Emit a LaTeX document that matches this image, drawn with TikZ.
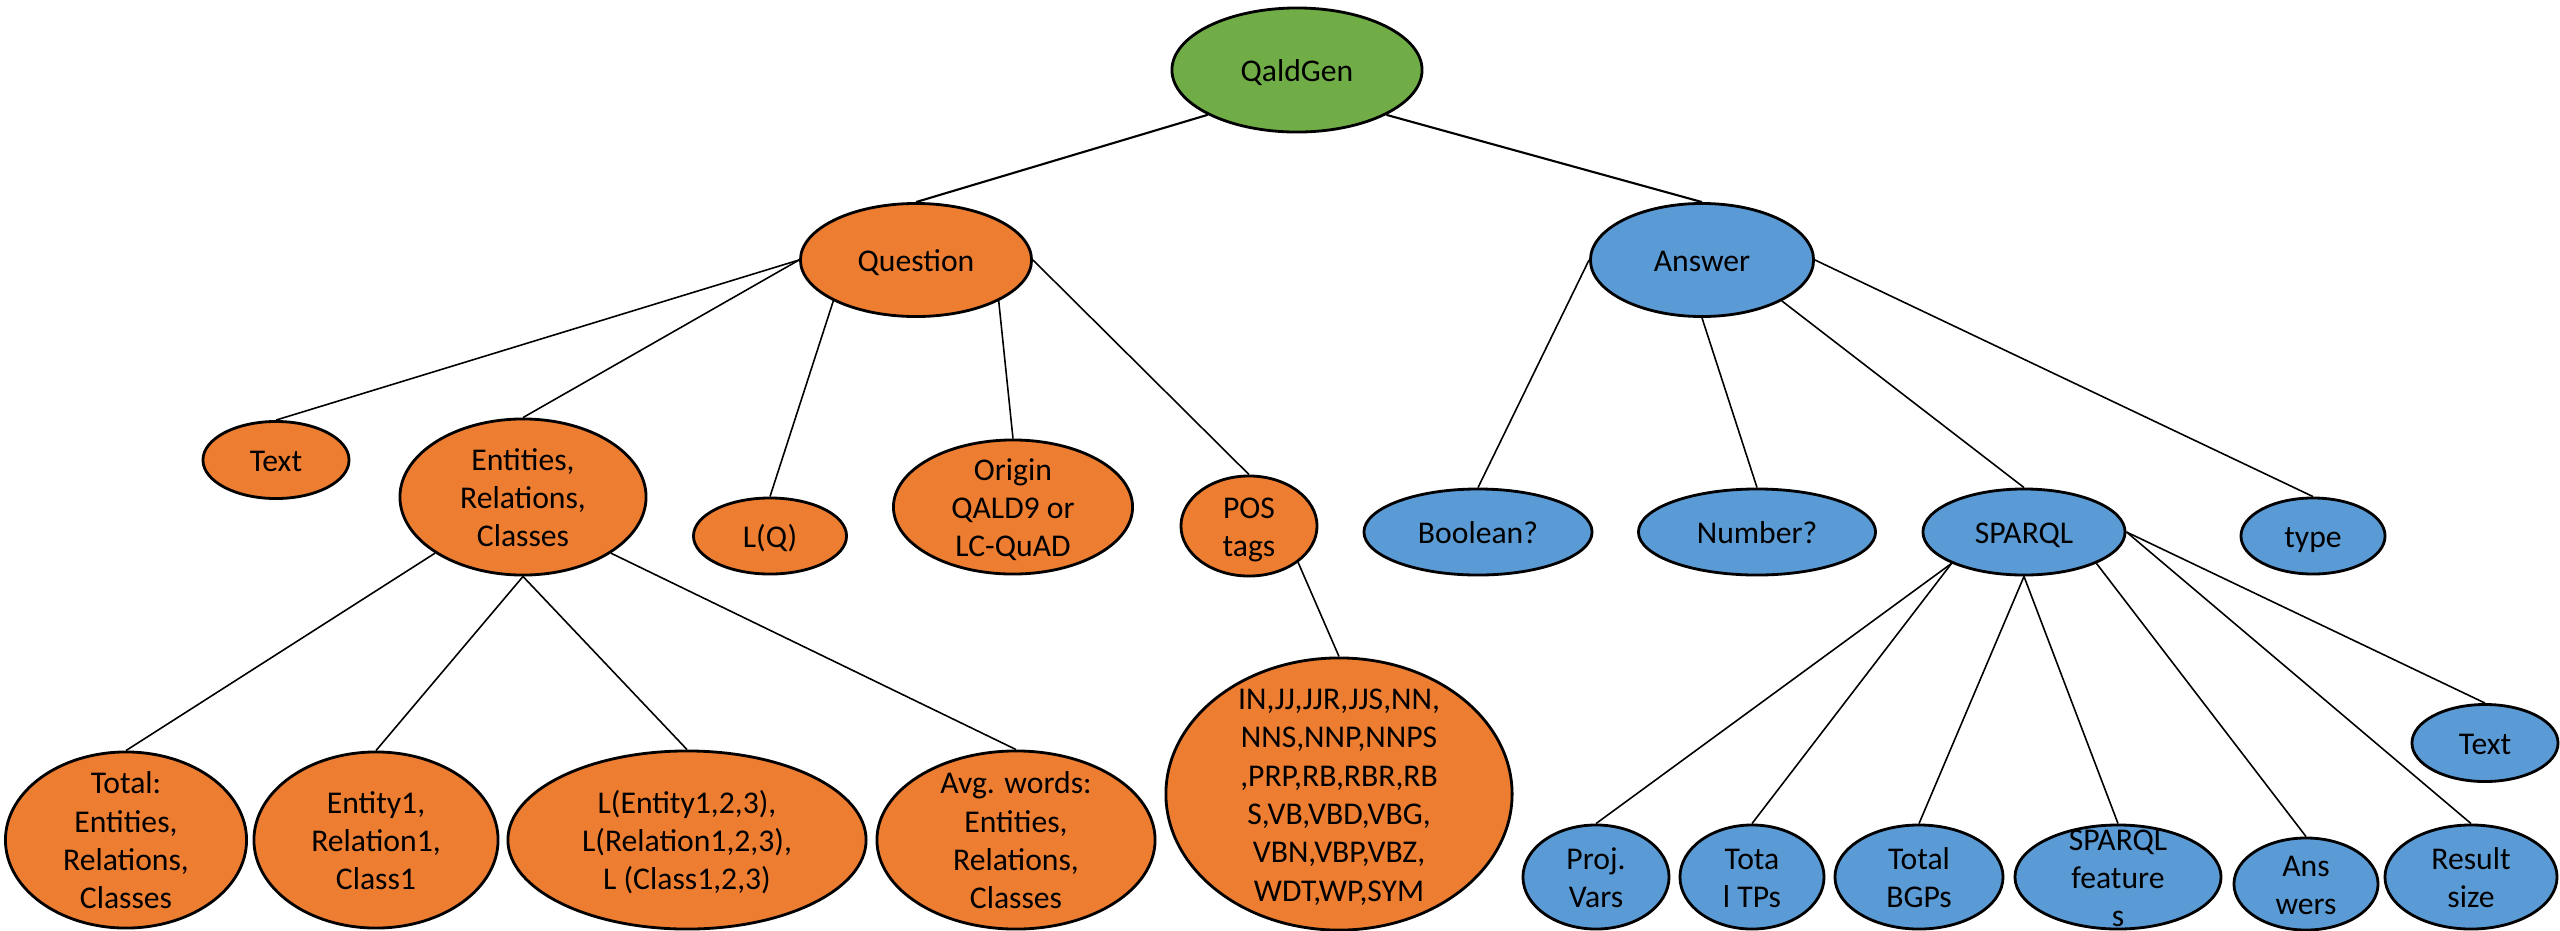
\documentclass[tikz,border=0pt]{standalone}
\usepackage{fontspec}
\setmainfont{Carlito}
\usetikzlibrary{shapes.geometric}

\definecolor{rootgreen}{HTML}{70AD47}
\definecolor{qorange}{HTML}{ED7D31}
\definecolor{ablue}{HTML}{5B9BD5}

% centred lines that do not widen the ellipse
\newcommand{\lbl}[1]{\smash{\raisebox{-3.3pt}{\begin{tabular}{@{}c@{}}#1\end{tabular}}}}

\begin{document}
\begin{tikzpicture}[x=0.01cm, y=-0.01cm,
  bubble/.style={ellipse, draw, line width=0.8pt, inner sep=0pt,
    font=\fontsize{9pt}{10.9pt}\selectfont},
  rootnode/.style={bubble, fill=rootgreen},
  qnode/.style={bubble, fill=qorange},
  anode/.style={bubble, fill=ablue},
  link/.style={line width=0.45pt}]
  \useasboundingbox (0,0) rectangle (2560,930);

  % Root
  \node[rootnode, minimum width=2.50cm, minimum height=1.24cm] (root) at (1297,70) {\lbl{QaldGen}};

  % Second level
  \node[qnode, minimum width=2.31cm, minimum height=1.13cm] (question) at (916,260) {\lbl{Question}};
  \node[anode, minimum width=2.23cm, minimum height=1.13cm] (answer) at (1702,260) {\lbl{Answer}};

  % Question children
  \node[qnode, minimum width=1.46cm, minimum height=0.77cm] (qtext) at (276,460) {\lbl{Text}};
  \node[qnode, minimum width=2.46cm, minimum height=1.56cm] (ents) at (523,497) {\lbl{Entities,\\Relations,\\Classes}};
  \node[qnode, minimum width=1.53cm, minimum height=0.76cm] (lenq) at (770,536) {\lbl{L(Q)}};
  \node[qnode, minimum width=2.39cm, minimum height=1.34cm] (origin) at (1013,507) {\lbl{Origin\\QALD9 or\\LC-QuAD}};
  \node[qnode, minimum width=1.36cm, minimum height=1.00cm] (pos) at (1249,526) {\lbl{POS\\tags}};

  % Answer children
  \node[anode, minimum width=2.28cm, minimum height=0.86cm] (boolq) at (1478,532) {\lbl{Boolean?}};
  \node[anode, minimum width=2.37cm, minimum height=0.86cm] (numq) at (1757,532) {\lbl{Number?}};
  \node[anode, minimum width=2.02cm, minimum height=0.86cm] (sparql) at (2024,532) {\lbl{SPARQL}};
  \node[anode, minimum width=1.44cm, minimum height=0.76cm] (atype) at (2313,536) {\lbl{type}};

  % Entities children
  \node[qnode, minimum width=2.41cm, minimum height=1.76cm] (total) at (126,840) {\lbl{Total:\\Entities,\\Relations,\\Classes}};
  \node[qnode, minimum width=2.44cm, minimum height=1.76cm] (first) at (376,840) {\lbl{Entity1,\\Relation1,\\Class1}};
  \node[qnode, minimum width=3.58cm, minimum height=1.78cm] (lents) at (687,840) {\lbl{L(Entity1,2,3),\\L(Relation1,2,3),\\L (Class1,2,3)}};
  \node[qnode, minimum width=2.78cm, minimum height=1.78cm] (avgw) at (1016,840) {\lbl{Avg. words:\\Entities,\\Relations,\\Classes}};

  % POS tag list
  \node[qnode, minimum width=3.46cm, minimum height=2.72cm] (tags) at (1339,794) {\lbl{IN,JJ,JJR,JJS,NN,\\NNS,NNP,NNPS\\,PRP,RB,RBR,RB\\S,VB,VBD,VBG,\\VBN,VBP,VBZ,\\WDT,WP,SYM}};

  % SPARQL children
  \node[anode, minimum width=1.46cm, minimum height=1.04cm] (projv) at (1596,877) {\lbl{Proj.\\Vars}};
  \node[anode, minimum width=1.44cm, minimum height=1.04cm] (tps) at (1752,877) {\lbl{Tota\\l TPs}};
  \node[anode, minimum width=1.68cm, minimum height=1.04cm] (bgps) at (1919,877) {\lbl{Total\\BGPs}};
  \node[anode, minimum width=2.06cm, minimum height=1.04cm] (feats) at (2118,877) {\lbl{SPARQL\\feature\\s}};
  \node[anode, minimum width=1.44cm, minimum height=0.92cm] (answ) at (2306,884) {\lbl{Ans\\wers}};
  \node[anode, minimum width=1.72cm, minimum height=1.04cm] (ressize) at (2471,877) {\lbl{Result\\size}};
  \node[anode, minimum width=1.46cm, minimum height=0.77cm] (atext) at (2485,743) {\lbl{Text}};

  % Links
  \draw[link, line width=0.6pt] (root.south west) -- (question.north);
  \draw[link, line width=0.6pt] (root.south east) -- (answer.north);

  \draw[link] (question.west) -- (qtext.north);
  \draw[link] (question.west) -- (ents.north);
  \draw[link] (question.south west) -- (lenq.north);
  \draw[link] (question.south east) -- (origin.north);
  \draw[link] (question.east) -- (pos.north);

  \draw[link] (answer.west) -- (boolq.north);
  \draw[link] (answer.south) -- (numq.north);
  \draw[link] (answer.south east) -- (sparql.north);
  \draw[link] (answer.east) -- (atype.north);

  \draw[link] (ents.south west) -- (total.north);
  \draw[link] (ents.south) -- (first.north);
  \draw[link] (ents.south) -- (lents.north);
  \draw[link] (ents.south east) -- (avgw.north);

  \draw[link] (pos.south east) -- (tags.north);

  \draw[link] (sparql.south west) -- (projv.north);
  \draw[link] (sparql.south west) -- (tps.north);
  \draw[link] (sparql.south) -- (bgps.north);
  \draw[link] (sparql.south) -- (feats.north);
  \draw[link] (sparql.south east) -- (answ.north);
  \draw[link] (sparql.east) -- (ressize.north);
  \draw[link] (sparql.east) -- (atext.north);
\end{tikzpicture}
\end{document}
